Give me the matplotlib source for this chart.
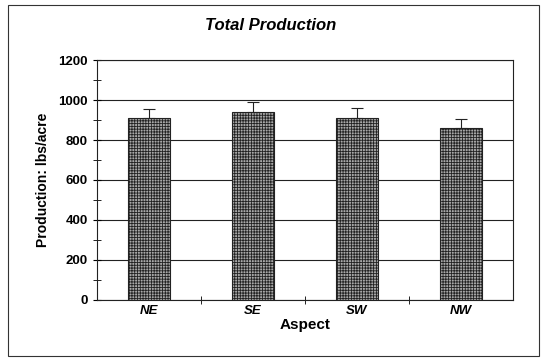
import numpy as np
import matplotlib.pyplot as plt
from matplotlib.patches import Rectangle

# Data
aspects = ["NE", "SE", "SW", "NW"]
production = [910, 940, 910, 860]
err_up = [45, 50, 50, 45]

plt.rcParams['font.family'] = ['Liberation Sans', 'DejaVu Sans']
plt.rcParams['hatch.linewidth'] = 0.6
plt.rcParams['hatch.color'] = '#333333'

fig = plt.figure(figsize=(5.42, 3.6), dpi=100)
ax = fig.add_axes([0.179, 0.167, 0.767, 0.666])

x = np.arange(len(aspects))
ax.bar(x, production, width=0.4, color="#a8a8a8", edgecolor="#222222",
       linewidth=0.8, hatch="++++++", zorder=3)
ax.errorbar(x, production, yerr=[np.zeros(len(x)), err_up], fmt="none",
            ecolor="#222222", elinewidth=0.8, capsize=4, capthick=0.8, zorder=4)

ax.set_xlim(-0.5, len(aspects) - 0.5)
ax.set_ylim(0, 1200)
ax.set_yticks(np.arange(0, 1201, 200))
ax.set_yticks(np.arange(0, 1201, 100), minor=True)
ax.yaxis.grid(True, color="#222222", linewidth=0.8, zorder=0)
ax.set_xticks(x)
ax.set_xticks(np.arange(0.5, len(aspects) - 0.5, 1), minor=True)
ax.tick_params(axis="x", which="major", length=0)
ax.tick_params(axis="x", which="minor", direction="inout", length=6)
ax.tick_params(axis="y", which="both", direction="inout", length=6)
ax.set_xticklabels(aspects, fontsize=9.5, fontweight="bold", style="italic")
for lab in ax.get_yticklabels():
    lab.set_fontsize(9.5)
    lab.set_fontweight("bold")

for s in ax.spines.values():
    s.set_color("#222222")
    s.set_linewidth(0.8)

ax.set_xlabel("Aspect", fontsize=11, fontweight="bold", labelpad=1)
ax.set_ylabel("Production: lbs/acre", fontsize=10, fontweight="bold", labelpad=6)
fig.text(0.5, 0.93, "Total Production", ha="center", va="center",
         fontsize=12, fontweight="bold", style="italic")

fig.patches.append(Rectangle((0.015, 0.01), 0.98, 0.975, transform=fig.transFigure,
                             fill=False, edgecolor="#333333", linewidth=0.8))

fig.savefig("out.png", dpi=100)
